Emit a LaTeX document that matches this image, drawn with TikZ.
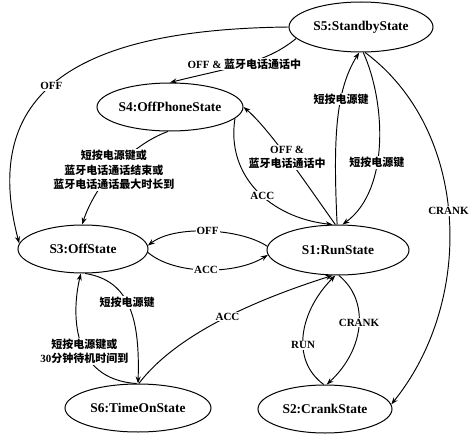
\documentclass[tikz,border=0pt]{standalone}
\usepackage{fontspec}
\setmainfont{Liberation Serif}
\newfontfamily\cjk{Noto Sans CJK SC}
\usetikzlibrary{shapes.geometric,arrows.meta}
\newcommand\zh[1]{{\cjk\bfseries #1}}
\begin{document}
\begin{tikzpicture}[x=1pt,y=-1pt,
  state/.style={ellipse, draw, line width=1pt, inner sep=0pt,
    font=\fontsize{13.4}{16}\selectfont\bfseries},
  conn/.style={draw, line width=0.95pt, -{Stealth[length=7pt,width=5pt]}},
  lbl/.style={fill=white, inner sep=1pt, align=center,
    font=\fontsize{11}{14.5}\selectfont\bfseries}]
\path[use as bounding box] (0,0) rectangle (474,436);

\node[state, minimum width=144pt, minimum height=50pt] (S5) at (361,27) {S5:StandbyState};
\node[state, minimum width=146pt, minimum height=48pt] (S4) at (170,107) {S4:OffPhoneState};
\node[state, minimum width=130pt, minimum height=48pt] (S3) at (83,249) {S3:OffState};
\node[state, minimum width=142pt, minimum height=50pt] (S1) at (338,250) {S1:RunState};
\node[state, minimum width=146pt, minimum height=48pt] (S6) at (138,408) {S6:TimeOnState};
\node[state, minimum width=134pt, minimum height=48pt] (S2) at (325,409) {S2:CrankState};

\draw[conn] (S5.180) .. controls +(-180,2) and +(-45,-170) .. (S3.175)
  node[lbl,pos=0.565]{OFF};
\draw[conn] (S5.190) .. controls +(-30,25) and +(60,-15) .. (S4.90)
  node[lbl,pos=0.5]{OFF \& \zh{蓝牙电话通话中}};
\draw[conn] (S4.265) .. controls +(-38,14) and +(13,-40) .. (S3.92)
  node[lbl,pos=0.52]{\zh{短按电源键或}\\\zh{蓝牙电话通话结束或}\\\zh{蓝牙电话通话最大时长到}};
\draw[conn] (S1.96) .. controls +(-25,-35) and +(27,23) .. (S4.0)
  node[lbl,pos=0.53]{OFF \&\\\zh{蓝牙电话通话中}};
\draw[conn] (S4.-10) .. controls +(-9,57) and +(-63,-7) .. (S1.102)
  node[lbl,pos=0.55]{ACC};
\draw[conn] (S1.92) .. controls +(-4,-85) and +(-24,38) .. (S5.266)
  node[lbl,pos=0.64]{\zh{短按电源键}};
\draw[conn] (S5.275) .. controls +(22,48) and +(48,-35) .. (S1.80)
  node[lbl,pos=0.6]{\zh{短按电源键}};
\draw[conn] (S5.279) .. controls +(105,78) and +(84,-104) .. (S2.4)
  node[lbl,pos=0.48]{CRANK};
\draw[conn] (S1.177) .. controls +(-27,-18) and +(27,-21) .. (S3.3)
  node[lbl,pos=0.5]{OFF};
\draw[conn] (S3.-3) .. controls +(27,23) and +(-32,20) .. (S1.184)
  node[lbl,pos=0.5]{ACC};
\draw[conn] (S3.275) .. controls +(45,7) and +(2,-64) .. (S6.90)
  node[lbl,pos=0.46]{\zh{短按电源键}};
\draw[conn] (S6.93) .. controls +(-67,-4) and +(-9,37) .. (S3.265)
  node[lbl,pos=0.42]{\zh{短按电源键或}\\30\zh{分钟待机时间到}};
\draw[conn] (S6.88) .. controls +(41,-54) and +(-63,20) .. (S1.258)
  node[lbl,pos=0.5]{ACC};
\draw[conn] (S2.93) .. controls +(-34,-25) and +(-35,35) .. (S1.264)
  node[lbl,pos=0.4]{RUN};
\draw[conn] (S1.272) .. controls +(31,25) and +(38,-35) .. (S2.86)
  node[lbl,pos=0.47]{CRANK};
\end{tikzpicture}
\end{document}
